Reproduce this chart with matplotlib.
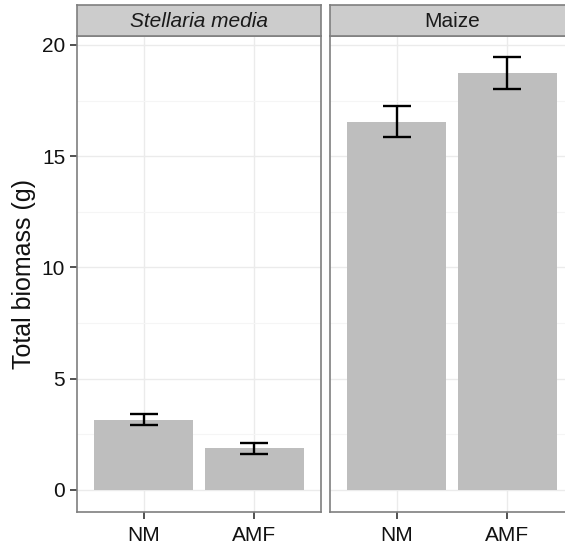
import matplotlib.pyplot as plt
import numpy as np

plt.rcParams['font.family'] = ['Liberation Sans', 'DejaVu Sans']

# dados
groups = ['Stellaria media', 'Maize']
treatments = ['NM', 'AMF']
biomass = {'Stellaria media': [3.15, 1.86], 'Maize': [16.55, 18.72]}
errors = {'Stellaria media': [0.24, 0.24], 'Maize': [0.70, 0.72]}
yticks = [0, 5, 10, 15, 20]

fig = plt.figure(figsize=(5.65, 5.48), dpi=100)

W, H = 565, 548
panel_w = 244
lefts = [77, 330]
top, bottom = 36, 512
strip_top = 5

for i, g in enumerate(groups):
    ax = fig.add_axes([lefts[i] / W, 1 - bottom / H, panel_w / W, (bottom - top) / H])
    x = np.arange(1, len(treatments) + 1)
    ax.bar(x, biomass[g], width=0.9, color='#bebebe', zorder=2)
    ax.errorbar(x, biomass[g], yerr=errors[g], fmt='none', ecolor='black',
                elinewidth=1.7, capsize=10, capthick=1.7, zorder=3)
    ax.set_xlim(0.4, 2.6)
    ax.set_ylim(-1.0, 20.4)
    ax.set_xticks(x)
    ax.set_xticklabels(treatments)
    ax.set_yticks(yticks)
    ax.set_yticks([2.5, 7.5, 12.5, 17.5], minor=True)
    ax.grid(True, which='major', color='#ebebeb', linewidth=1.0, zorder=0)
    ax.grid(True, which='minor', axis='y', color='#f5f5f5', linewidth=0.8, zorder=0)
    ax.set_axisbelow(True)
    for s in ax.spines.values():
        s.set_color('#7f7f7f')
        s.set_linewidth(1.2)
    ax.tick_params(axis='both', which='major', length=5, width=1.2, color='#333333',
                   labelsize=15, labelcolor='#111111', pad=3.5)
    ax.tick_params(axis='x', which='major', pad=5)
    ax.tick_params(axis='both', which='minor', length=0)
    if i == 0:
        ax.set_ylabel('Total biomass (g)', fontsize=18, labelpad=4, color='#111111')
    else:
        ax.tick_params(axis='y', left=False, labelleft=False)

    # faixa do facet
    sax = fig.add_axes([lefts[i] / W, 1 - top / H, panel_w / W, (top - strip_top) / H])
    sax.set_facecolor('#cccccc')
    sax.set_xticks([])
    sax.set_yticks([])
    for s in sax.spines.values():
        s.set_color('#7f7f7f')
        s.set_linewidth(1.2)
    sax.text(0.5, 0.48, g, ha='center', va='center', fontsize=15, color='#1a1a1a',
             style='italic' if i == 0 else 'normal', transform=sax.transAxes)

fig.savefig('out.png', dpi=100)
